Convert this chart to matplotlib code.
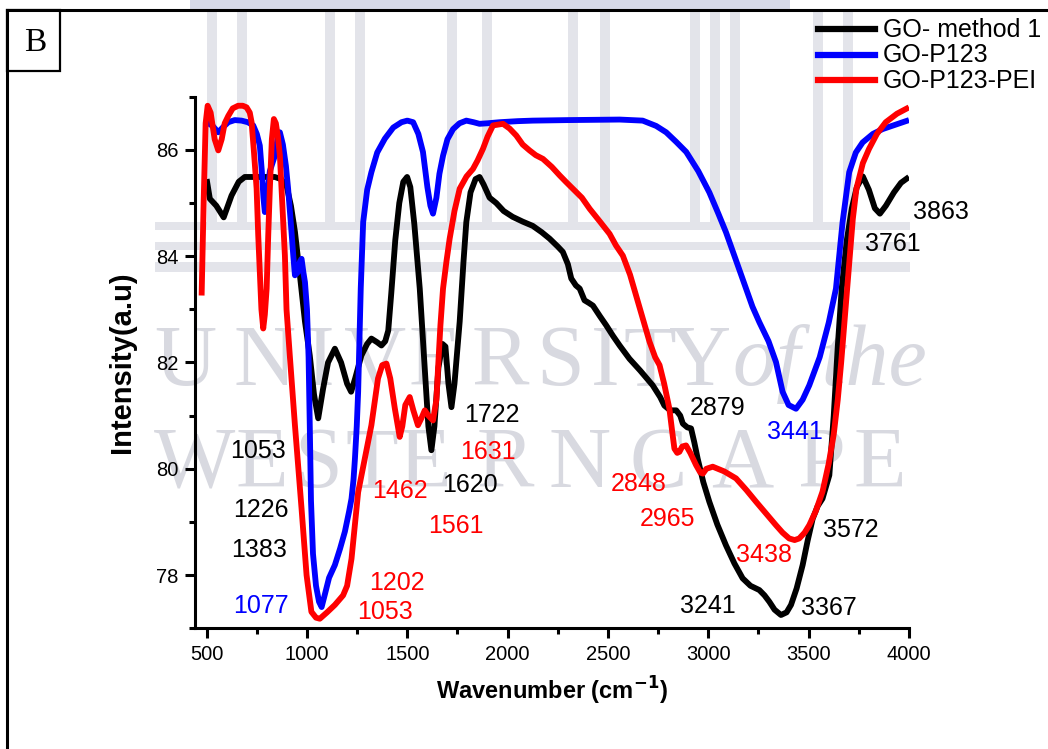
import numpy as np
import matplotlib.pyplot as plt
from matplotlib.lines import Line2D
from matplotlib.patches import Rectangle
from matplotlib.ticker import MultipleLocator

plt.rcParams['font.family'] = ['Liberation Sans', 'DejaVu Sans']

W, H = 1048, 749

# GO- method 1
wn_m1 = [500, 516, 548, 585, 624, 660, 690, 840, 870, 898, 920, 940, 965, 990, 1014,
         1035, 1056, 1080, 1105, 1139, 1170, 1200, 1220, 1240, 1271, 1300, 1321, 1350,
         1371, 1390, 1405, 1420, 1440, 1460, 1480, 1499, 1515, 1535, 1562, 1585, 1605,
         1620, 1635, 1655, 1675, 1690, 1705, 1720, 1735, 1761, 1780, 1794, 1815, 1840,
         1860, 1880, 1910, 1943, 1980, 2025, 2075, 2125, 2170, 2209, 2250, 2275, 2300,
         2317, 2340, 2359, 2383, 2405, 2425, 2460, 2491, 2525, 2558, 2607, 2660, 2723,
         2760, 2781, 2810, 2840, 2860, 2873, 2895, 2914, 2930, 2947, 2975, 3005, 3045,
         3088, 3130, 3171, 3210, 3254, 3280, 3304, 3330, 3362, 3390, 3412, 3440, 3470,
         3495, 3520, 3545, 3569, 3603, 3625, 3645, 3665, 3690, 3715, 3740, 3770, 3800,
         3830, 3855, 3885, 3925, 3960, 4000]
int_m1 = [85.45, 85.08, 84.95, 84.73, 85.14, 85.40, 85.49, 85.49, 85.45, 85.33, 84.95,
          84.46, 83.63, 82.77, 82.13, 81.40, 80.95, 81.50, 82.00, 82.26, 82.00, 81.60,
          81.45, 81.70, 82.13, 82.35, 82.45, 82.38, 82.32, 82.40, 82.60, 83.30, 84.30,
          85.00, 85.40, 85.49, 85.30, 84.60, 83.39, 82.00, 80.80, 80.35, 80.80, 81.90,
          82.35, 82.30, 81.60, 81.16, 81.60, 82.77, 83.90, 84.64, 85.20, 85.45, 85.49,
          85.35, 85.10, 85.00, 84.85, 84.74, 84.65, 84.57, 84.45, 84.33, 84.18, 84.08,
          83.85, 83.58, 83.45, 83.39, 83.17, 83.12, 83.07, 82.87, 82.70, 82.50, 82.32,
          82.07, 81.85, 81.57, 81.35, 81.19, 81.10, 81.10, 81.00, 80.85, 80.78, 80.76,
          80.50, 80.19, 79.75, 79.38, 78.95, 78.56, 78.22, 77.94, 77.80, 77.72, 77.62,
          77.50, 77.35, 77.25, 77.30, 77.44, 77.75, 78.19, 78.65, 79.06, 79.30, 79.44,
          79.88, 81.00, 82.30, 83.40, 84.30, 84.90, 85.30, 85.50, 85.25, 84.90, 84.80,
          84.95, 85.20, 85.38, 85.49]

# GO-P123
wn_p123 = [500, 530, 558, 580, 608, 640, 674, 705, 732, 750, 765, 775, 783, 790, 800,
           815, 840, 855, 865, 880, 895, 906, 920, 932, 940, 955, 965, 973, 982, 990,
           1000, 1008, 1014, 1020, 1030, 1045, 1060, 1073, 1090, 1110, 1139, 1165, 1189,
           1210, 1222, 1232, 1239, 1248, 1255, 1260, 1268, 1280, 1300, 1321, 1350, 1388,
           1430, 1471, 1500, 1529, 1555, 1578, 1600, 1615, 1628, 1645, 1660, 1678, 1700,
           1728, 1760, 1794, 1830, 1860, 1900, 1960, 2050, 2125, 2300, 2558, 2673, 2740,
           2790, 2840, 2890, 2950, 3005, 3050, 3088, 3140, 3188, 3220, 3254, 3300, 3337,
           3370, 3400, 3437, 3470, 3503, 3555, 3600, 3636, 3669, 3702, 3735, 3769, 3820,
           3868, 3930, 4000]
int_p123 = [86.52, 86.45, 86.33, 86.42, 86.52, 86.56, 86.55, 86.52, 86.46, 86.30, 86.08,
            85.60, 85.10, 84.83, 85.10, 85.60, 85.89, 86.25, 86.33, 86.10, 85.70, 85.27,
            84.60, 84.00, 83.64, 83.70, 83.90, 83.95, 83.70, 83.51, 83.00, 82.10, 80.80,
            79.40, 78.40, 77.80, 77.50, 77.40, 77.65, 77.95, 78.19, 78.50, 78.82, 79.20,
            79.44, 79.80, 80.19, 80.80, 81.45, 82.20, 83.40, 84.64, 85.25, 85.58, 85.95,
            86.21, 86.42, 86.52, 86.55, 86.52, 86.30, 85.96, 85.30, 84.95, 84.80, 85.10,
            85.55, 85.89, 86.20, 86.39, 86.50, 86.55, 86.52, 86.49, 86.50, 86.52, 86.54,
            86.55, 86.56, 86.57, 86.55, 86.45, 86.33, 86.15, 85.96, 85.60, 85.20, 84.80,
            84.45, 83.90, 83.39, 83.05, 82.76, 82.40, 82.01, 81.45, 81.20, 81.13, 81.30,
            81.57, 82.10, 82.75, 83.39, 84.64, 85.58, 85.95, 86.14, 86.30, 86.39, 86.47,
            86.56]

# GO-P123-PEI
wn_pei = [475, 485, 495, 505, 520, 540, 558, 575, 590, 608, 630, 657, 680, 699, 715, 724,
          735, 749, 757, 765, 773, 782, 790, 799, 807, 815, 825, 835, 845, 855, 865, 877,
          890, 898, 915, 940, 973, 998, 1022, 1045, 1064, 1100, 1139, 1180, 1200, 1222,
          1240, 1255, 1288, 1321, 1354, 1375, 1396, 1415, 1438, 1462, 1475, 1490, 1512,
          1530, 1553, 1570, 1587, 1605, 1628, 1645, 1653, 1665, 1678, 1695, 1711, 1735,
          1761, 1795, 1827, 1850, 1877, 1900, 1927, 1977, 2010, 2043, 2075, 2109, 2140,
          2176, 2220, 2259, 2290, 2325, 2370, 2409, 2460, 2508, 2540, 2574, 2610, 2640,
          2675, 2707, 2735, 2757, 2780, 2806, 2820, 2831, 2845, 2856, 2870, 2889, 2910,
          2939, 2960, 2973, 2990, 3022, 3080, 3138, 3190, 3238, 3290, 3337, 3370, 3403,
          3430, 3453, 3480, 3503, 3535, 3569, 3600, 3625, 3645, 3662, 3690, 3705, 3720,
          3738, 3770, 3801, 3840, 3884, 3940, 4000]
int_pei = [83.26, 85.00, 86.50, 86.83, 86.70, 86.20, 85.99, 86.20, 86.50, 86.64, 86.78,
           86.83, 86.83, 86.80, 86.70, 86.52, 86.00, 85.27, 84.40, 83.70, 83.00, 82.64,
           82.90, 83.39, 84.40, 85.27, 86.20, 86.58, 86.50, 86.25, 85.89, 85.00, 84.01,
           83.00, 82.10, 80.82, 79.25, 78.00, 77.31, 77.20, 77.18, 77.30, 77.44, 77.62,
           77.80, 78.31, 79.00, 79.56, 80.19, 80.82, 81.70, 81.95, 81.98, 81.70, 81.13,
           80.60, 80.80, 81.20, 81.35, 81.10, 80.82, 80.95, 81.10, 81.00, 80.91, 81.30,
           81.88, 82.70, 83.39, 83.90, 84.33, 84.85, 85.27, 85.50, 85.64, 85.80, 86.02,
           86.25, 86.46, 86.49, 86.40, 86.27, 86.10, 85.99, 85.90, 85.83, 85.68, 85.52,
           85.40, 85.27, 85.10, 84.89, 84.65, 84.42, 84.20, 84.01, 83.65, 83.26, 82.80,
           82.39, 82.10, 81.95, 81.60, 81.13, 80.70, 80.38, 80.30, 80.32, 80.42, 80.44,
           80.30, 80.07, 79.93, 79.91, 80.00, 80.04, 79.95, 79.82, 79.60, 79.38, 79.15,
           78.94, 78.80, 78.69, 78.66, 78.69, 78.80, 78.94, 79.20, 79.57, 80.10, 80.65,
           81.30, 82.00, 83.30, 84.00, 84.70, 85.27, 85.75, 86.02, 86.30, 86.52, 86.68,
           86.80]

# peak labels: (text, wavenumber, intensity)
labels_m1 = [('1053', 755, 80.38), ('1226', 770, 79.27), ('1383', 763, 78.52),
             ('1620', 1811, 79.74), ('1722', 1922, 81.06), ('2879', 3045, 81.19),
             ('3572', 3712, 78.89), ('3241', 3000, 77.47), ('3367', 3602, 77.43),
             ('3761', 3921, 84.28), ('3863', 4159, 84.87)]
labels_p123 = [('1077', 773, 77.47), ('3441', 3434, 80.74)]
labels_pei = [('1202', 1446, 77.89), ('1053', 1388, 77.35), ('1462', 1465, 79.63),
              ('1561', 1741, 78.98), ('1631', 1904, 80.36), ('2848', 2652, 79.77),
              ('2965', 2796, 79.11), ('3438', 3279, 78.42)]

series = [('GO- method 1', wn_m1, int_m1, 'black', labels_m1),
          ('GO-P123', wn_p123, int_p123, '#0000ff', labels_p123),
          ('GO-P123-PEI', wn_pei, int_pei, '#ff0000', labels_pei)]


def fpos(x, y):
    ''' pixel position -> figure fraction '''
    return x / W, 1 - y / H


fig = plt.figure(figsize=(W / 100, H / 100), dpi=100)
fig.patch.set_facecolor('white')

# faint watermark behind the plot
wm = '#e3e4ea'
wm_txt = '#d8d9e0'
fig.add_artist(Rectangle(fpos(190, 12), 600 / W, 12 / H, transform=fig.transFigure,
                         color='#d6d9e8', zorder=-3, lw=0))
for cx in [207, 237, 325, 355, 447, 482, 568, 600, 690, 710, 730, 813, 843]:
    fig.add_artist(Rectangle(fpos(cx, 222), 10 / W, 210 / H, transform=fig.transFigure,
                             color=wm, zorder=-3, lw=0))
for y0, y1 in [(222, 230), (242, 250), (262, 272)]:
    fig.add_artist(Rectangle(fpos(155, y1), 755 / W, (y1 - y0) / H, transform=fig.transFigure,
                             color=wm, zorder=-3, lw=0))
for ch, cx in zip('UNIVERSITY', [185, 265, 320, 375, 435, 500, 560, 605, 650, 700]):
    fig.text(*fpos(cx, 364), ch, ha='center', va='center', fontsize=62,
             family='Liberation Serif', color=wm_txt, zorder=-3)
fig.text(*fpos(830, 364), 'of the', ha='center', va='center', fontsize=62,
         family='Liberation Serif', style='italic', color=wm_txt, zorder=-3)
for ch, cx in zip('WESTERNCAPE', [195, 262, 318, 372, 425, 505, 580, 658, 742, 822, 880]):
    fig.text(*fpos(cx, 466), ch, ha='center', va='center', fontsize=62,
             family='Liberation Serif', color=wm_txt, zorder=-3)

# outer frame and panel letter
fig.add_artist(Line2D([7 / W, 1], [1 - 10 / H, 1 - 10 / H], color='black', lw=2.2))
fig.add_artist(Line2D([7 / W, 7 / W], [0, 1 - 10 / H], color='black', lw=2.2))
fig.add_artist(Rectangle(fpos(7, 71), 53 / W, 61 / H, transform=fig.transFigure,
                         fill=False, ec='black', lw=1.6))
fig.text(*fpos(35, 43), 'B', ha='center', va='center', fontsize=24, family='Liberation Serif')

ax = fig.add_axes([195 / W, 1 - 628.3 / H, (909 - 195) / W, (628.3 - 96.7) / H])
ax.patch.set_alpha(0)

for name, wn, val, col, labs in series:
    ax.plot(wn, val, color=col, lw=4.2, solid_joinstyle='round', solid_capstyle='butt')
    for txt, x, y in labs:
        ax.text(x, y, txt, color=col, fontsize=18, ha='center', va='center_baseline',
                clip_on=False)

ax.set_xlim(442, 4000)
ax.set_ylim(77, 87)
ax.xaxis.set_major_locator(MultipleLocator(500))
ax.xaxis.set_minor_locator(MultipleLocator(250))
ax.yaxis.set_major_locator(MultipleLocator(2))
ax.yaxis.set_minor_locator(MultipleLocator(1))
ax.set_yticks([78, 80, 82, 84, 86])
for s in ['top', 'right']:
    ax.spines[s].set_visible(False)
for s in ['left', 'bottom']:
    ax.spines[s].set_linewidth(2.2)
ax.tick_params(which='major', length=7, width=2.2, labelsize=14.5, pad=5)
ax.tick_params(which='minor', length=4, width=2.2)

ax.set_xlabel('Wavenumber (cm$^{\\mathbf{-1}}$)', fontsize=17, fontweight='bold', labelpad=8)
ax.set_ylabel('Intensity(a.u)', fontsize=21, fontweight='bold', labelpad=14)

# legend drawn at its own place in the top right corner
for i, (name, wn, val, col, labs) in enumerate(series):
    yb = 37 + i * 25.5
    fig.add_artist(Line2D([818 / W, 875 / W], [1 - (yb - 8) / H] * 2, color=col, lw=4.5))
    fig.text(*fpos(883, yb), name, ha='left', va='baseline', fontsize=18)

fig.savefig('out.png', dpi=100)
